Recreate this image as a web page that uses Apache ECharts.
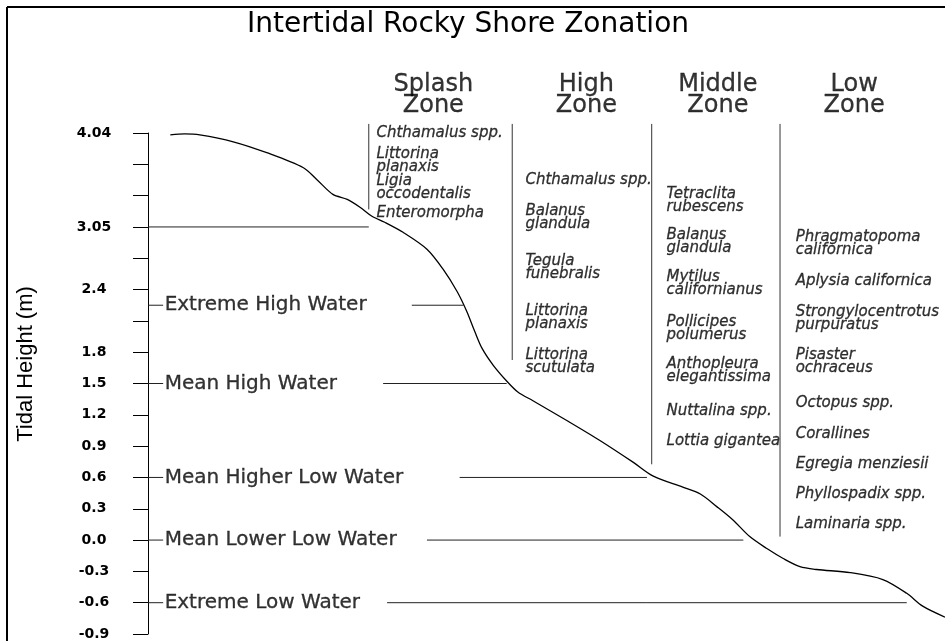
<!DOCTYPE html>
<html lang="en">
<head>
<meta charset="UTF-8">
<title>Intertidal Rocky Shore Zonation</title>
<script src="https://cdn.jsdelivr.net/npm/echarts@6/dist/echarts.min.js"></script>
<style>
    html, body { margin: 0; padding: 0; background: #fff; }
    #chart { width: 945px; height: 641px; }
</style>
</head>
<body>
<div id="chart"></div>
<script>
// the y axis counts tick steps from the bottom tick; printed heights are not evenly spaced
var tickLabels = ['-0.9', '-0.6', '-0.3', '0.0', '0.3', '0.6', '0.9', '1.2', '1.5', '1.8',
    '', '2.4', '', '3.05', '', '', '4.04'];

// shore profile: x = distance across the shore (0-100), y = tick steps
var shoreX = [2.8, 4.6, 6.5, 10.7, 14.9, 19.5, 21.2, 23.2, 25.0, 26.6, 28.1, 29.7, 32.0, 35.0,
    37.0, 38.8, 40.0, 41.0, 41.9, 43.3, 45.0, 46.4, 48.3, 52.6, 56.7, 60.9, 63.4, 67.1, 69.3,
    71.4, 73.4, 75.5, 77.7, 79.7, 81.8, 83.9, 88.1, 92.2, 95.2, 97.2, 100];
var shoreY = [15.94, 15.97, 15.94, 15.72, 15.37, 14.89, 14.51, 14.04, 13.88, 13.63, 13.34,
    13.15, 12.83, 12.29, 11.66, 10.93, 10.30, 9.66, 9.13, 8.59, 8.08, 7.73, 7.45, 6.81, 6.18,
    5.48, 5.04, 4.69, 4.47, 4.06, 3.64, 3.11, 2.72, 2.41, 2.15, 2.06, 1.96, 1.74, 1.30, 0.89, 0.54];

// tide levels
var levelNames = ['', 'Extreme High Water', 'Mean High Water', 'Mean Higher Low Water',
    'Mean Lower Low Water', 'Extreme Low Water'];
var levelY = [13, 10.5, 8, 5, 3, 1];
var levelLineFrom = [0, 33.1, 29.5, 39.1, 35.0, 30.0];
var levelLineTo = [27.7, 39.6, 45.0, 62.6, 74.7, 95.2];

// zones
var zoneNames = ['Splash\nZone', 'High\nZone', 'Middle\nZone', 'Low\nZone'];
var zoneCenter = [35.8, 55.0, 71.5, 88.6];
var dividerX = [27.7, 45.7, 63.2, 79.3];
var dividerBottom = [13.56, 8.75, 5.42, 3.11];

// species in each zone and the height they are listed at
var splashSpecies = ['Chthamalus spp.', 'Littorina\nplanaxis', 'Ligia\noccodentalis', 'Enteromorpha'];
var splashHeights = [16.0, 15.11, 14.26, 13.43];
var highSpecies = ['Chthamalus spp.', 'Balanus\nglandula', 'Tegula\nfunebralis',
    'Littorina\nplanaxis', 'Littorina\nscutulata'];
var highHeights = [14.48, 13.31, 11.69, 10.11, 8.71];
var middleSpecies = ['Tetraclita\nrubescens', 'Balanus\nglandula', 'Mytilus\ncalifornianus',
    'Pollicipes\npolumerus', 'Anthopleura\nelegantissima', 'Nuttalina spp.', 'Lottia gigantea'];
var middleHeights = [13.85, 12.52, 11.19, 9.76, 8.40, 7.13, 6.15];
var lowSpecies = ['Phragmatopoma\ncalifornica', 'Aplysia californica',
    'Strongylocentrotus\npurpuratus', 'Pisaster\nochraceus', 'Octopus spp.', 'Corallines',
    'Egregia menziesii', 'Phyllospadix spp.', 'Laminaria spp.'];
var lowHeights = [12.48, 11.28, 10.08, 8.71, 7.38, 6.37, 5.42, 4.47, 3.52];

var speciesX = [28.6, 47.3, 65.0, 81.2];
var topOfDividers = 16.29;
var headerY = 17.2;
var connectorEnd = 1.9;

var ink = '#000';
var font = 'DejaVu Sans';

function segment(x1, y1, x2, y2, color) {
    return {
        type: 'line',
        data: [[x1, y1], [x2, y2]],
        symbol: 'none',
        clip: false,
        silent: true,
        lineStyle: { color: color || ink, width: 1 }
    };
}

function textPoints(names, xs, ys, style) {
    return {
        type: 'scatter',
        clip: false,
        silent: true,
        symbolSize: 1,
        itemStyle: { color: 'rgba(0,0,0,0)' },
        label: Object.assign({
            show: true, formatter: '{b}', color: ink,
            textBorderColor: ink, textBorderWidth: 0.3
        }, style),
        data: names.map(function (n, i) {
            return { name: n, value: [Array.isArray(xs) ? xs[i] : xs, ys[i]] };
        })
    };
}

var series = [];

// shore profile
series.push({
    type: 'line',
    data: shoreX.map(function (x, i) { return [x, shoreY[i]]; }),
    smooth: 0.3,
    symbol: 'none',
    silent: true,
    lineStyle: { color: ink, width: 1.3 }
});

// tide level lines
levelY.forEach(function (y, i) {
    series.push(segment(levelLineFrom[i], y, levelLineTo[i], y, '#222'));
    if (levelNames[i]) series.push(segment(0, y, connectorEnd, y, '#222'));
});
series.push(textPoints(levelNames.filter(function (n) { return n; }), connectorEnd,
    levelY.filter(function (y, i) { return levelNames[i]; }),
    { position: 'right', distance: 1, fontFamily: font, fontSize: 20 }));

// zone dividers
dividerX.forEach(function (x, i) {
    series.push(segment(x, topOfDividers, x, dividerBottom[i], '#333'));
});

// zone headers
series.push(textPoints(zoneNames, zoneCenter, zoneNames.map(function () { return headerY; }),
    { position: 'inside', align: 'center', verticalAlign: 'middle', fontFamily: font,
      fontSize: 24, lineHeight: 21 }));

// species lists
var speciesStyle = { position: 'right', distance: 0, fontFamily: font, fontStyle: 'italic',
    fontSize: 15, lineHeight: 13 };
[[splashSpecies, splashHeights], [highSpecies, highHeights],
 [middleSpecies, middleHeights], [lowSpecies, lowHeights]].forEach(function (z, i) {
    series.push(textPoints(z[0], speciesX[i], z[1], speciesStyle));
});

var chart = echarts.init(document.getElementById('chart'));
chart.setOption({
    animation: false,
    backgroundColor: '#fff',
    title: {
        text: 'Intertidal Rocky Shore Zonation',
        left: 242,
        top: 6,
        textStyle: { fontFamily: font, fontSize: 28, fontWeight: 'normal', color: ink }
    },
    grid: { left: 148, right: 0, top: 133, bottom: 3 },
    xAxis: { type: 'value', min: 0, max: 100, show: false },
    yAxis: {
        type: 'value',
        min: 0,
        max: 16,
        interval: 1,
        splitLine: { show: false },
        axisLine: { show: true, lineStyle: { color: ink, width: 1 } },
        axisTick: { show: true, length: 15, lineStyle: { color: ink } },
        axisLabel: {
            margin: 54,
            align: 'center',
            color: ink,
            fontFamily: font,
            fontWeight: 'bold',
            fontSize: 14,
            formatter: function (v) { return tickLabels[v]; }
        }
    },
    graphic: [
        { type: 'line', shape: { x1: 7, y1: 7, x2: 945, y2: 7 }, style: { stroke: ink, lineWidth: 2 } },
        { type: 'line', shape: { x1: 7, y1: 7, x2: 7, y2: 641 }, style: { stroke: ink, lineWidth: 2 } },
        {
            type: 'text',
            x: 26,
            y: 364,
            rotation: Math.PI / 2,
            style: {
                text: 'Tidal Height (m)',
                fill: ink,
                font: '22px "Liberation Sans"',
                align: 'center',
                verticalAlign: 'middle'
            }
        }
    ],
    series: series
});
</script>
</body>
</html>
